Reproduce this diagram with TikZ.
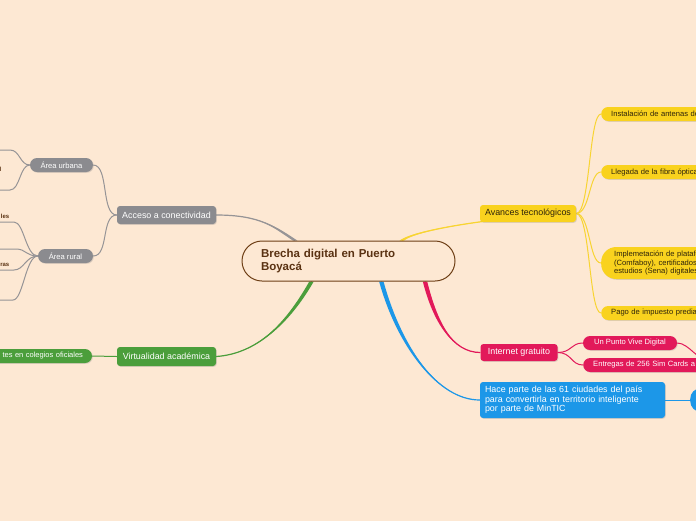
\documentclass[tikz,border=0pt]{standalone}
\usepackage{fontspec}
\setmainfont{Liberation Sans}
\usetikzlibrary{calc,shadows}
\pgfdeclarelayer{bg}
\pgfdeclarelayer{background}
\pgfsetlayers{bg,background,main}
\definecolor{bgc}{RGB}{253,232,211}
\definecolor{brd}{RGB}{110,63,22}
\definecolor{brtext}{RGB}{90,50,18}
\definecolor{greyc}{RGB}{139,139,143}
\definecolor{greyl}{RGB}{150,148,150}
\definecolor{greenc}{RGB}{75,158,59}
\definecolor{yelc}{RGB}{249,210,30}
\definecolor{yell}{RGB}{248,212,50}
\definecolor{pinkc}{RGB}{226,25,90}
\definecolor{bluec}{RGB}{28,151,232}
\definecolor{dark}{RGB}{45,35,10}
\newcommand{\mytaper}[5]{%
  \fill[#1] (#2) .. controls +#3 and +#4 .. ($(#5)+(-2.2,0)$) -- ($(#5)+(2.2,0)$) .. controls +#4 and +#3 .. (#2) -- cycle;
  \draw[#1, line width=1.2pt] (#2) .. controls +#3 and +#4 .. (#5);}
\begin{document}
\begin{tikzpicture}[x=1pt,y=-1pt,
  mainbox/.style={rounded corners=3pt, minimum height=18pt, inner xsep=0pt, inner ysep=0pt,
    font=\fontsize{8.9}{9.4}\selectfont, text=white,
    drop shadow={opacity=0.25, shadow xshift=0.8pt, shadow yshift=-0.8pt}},
  subbox/.style={rounded corners=7pt, minimum height=14pt, inner xsep=0pt, inner ysep=0pt,
    font=\fontsize{7.6}{8.7}\selectfont, text=white,
    drop shadow={opacity=0.25, shadow xshift=0.8pt, shadow yshift=-0.8pt}},
  leaftext/.style={font=\bfseries\fontsize{6}{7}\selectfont, text=brtext, inner sep=0pt, anchor=east},
  subline/.style={line width=1pt},
]
\useasboundingbox (0,0) rectangle (696,520);
\begin{pgfonlayer}{bg}
\fill[bgc] (-30,-30) rectangle (760,560);
\end{pgfonlayer}

% central
\node[draw=brd, line width=1pt, fill=bgc, rounded corners=20pt, minimum width=213pt, minimum height=40pt,
  inner sep=0pt, text width=175pt, align=left, text=brtext,
  font=\bfseries\fontsize{11.5}{12.5}\selectfont] (cen) at (348.5,261) {Brecha digital en Puerto\\Boyacá};

% grey branch
\node[mainbox, fill=greyc, minimum width=99pt] (acc) at (166.5,215) {Acceso a conectividad};
\node[subbox, fill=greyc, minimum width=63pt] (urb) at (61.5,165) {Área urbana};
\node[subbox, fill=greyc, minimum width=55pt] (rur) at (65.5,256) {Área rural};
\coordinate (lu1) at (10,150);
\coordinate (lu2) at (10,190);
\coordinate (lr1) at (14,222);
\coordinate (lr2) at (16,249);
\coordinate (lr3) at (14,270);
\coordinate (lr4) at (13,300);
\node[leaftext] (t1) at (1.5,169) {l};
\node[leaftext] (t2) at (9.5,216) {les};
\node[leaftext] (t3) at (9.5,265) {ras};

% green branch
\node[mainbox, fill=greenc, minimum width=99pt, minimum height=19pt] (virt) at (166.5,356.5) {Virtualidad académica};
\node[subbox, fill=greenc, minimum width=132pt, text width=114pt, inner xsep=9pt, align=right,
  font=\fontsize{7.5}{8.7}\selectfont] (col) at (26,356) {tes en colegios oficiales};

% yellow branch
\node[mainbox, fill=yelc, text=dark, minimum width=96pt, minimum height=17pt] (avn) at (528,213.5) {Avances tecnológicos};
\node[subbox, fill=yelc, text=dark, anchor=west, text width=130pt, inner xsep=10pt, align=left] (ant) at (601,114) {Instalación de antenas de};
\node[subbox, fill=yelc, text=dark, anchor=west, text width=130pt, inner xsep=10pt, align=left] (fib) at (601,172) {Llegada de la fibra óptica};
\node[subbox, fill=yelc, text=dark, anchor=west, text width=130pt, inner xsep=13pt, align=left,
  rounded corners=15pt, minimum height=32pt] (imp) at (601,263) {Implemetación de plataformas\\(Comfaboy), certificados\\estudios (Sena) digitales};
\node[subbox, fill=yelc, text=dark, anchor=west, text width=130pt, inner xsep=10pt, align=left] (pag) at (601,313) {Pago de impuesto predial};

% pink branch
\node[mainbox, fill=pinkc, minimum width=77pt, minimum height=17pt] (inet) at (519,352.5) {Internet gratuito};
\node[subbox, fill=pinkc, minimum width=94pt] (vive) at (630,343) {Un Punto Vive Digital};
\node[subbox, fill=pinkc, anchor=west, text width=130pt, inner xsep=10pt, align=left] (sim) at (583,365) {Entregas de 256 Sim Cards a};
\coordinate (pv) at (712,362);

% blue branch
\node[mainbox, fill=bluec, minimum width=185pt, minimum height=36pt, text width=175pt, align=left] (hace) at (572.5,400)
  {Hace parte de las 61 ciudades del país\\para convertirla en territorio inteligente\\por parte de MinTIC};
\node[fill=bluec, rounded corners=11pt, anchor=west, minimum width=40pt, minimum height=24pt, inner sep=0pt] (bend) at (690,400) {};

\begin{pgfonlayer}{background}
% main tapered connectors
\mytaper{greyl}{acc.east}{(45,0)}{(-20,-13)}{cen.159}
\mytaper{greenc}{virt.east}{(45,-3)}{(-20,35)}{cen.209}
\mytaper{yell}{avn.east}{(-40,0)}{(18,-14)}{cen.21}
\mytaper{pinkc}{inet.west}{(-28,0)}{(10,40)}{cen.345}
\mytaper{bluec}{hace.west}{(-42,0)}{(18,65)}{cen.328}

% grey sub connectors
\draw[greyl, subline] (acc.west) .. controls +(-16,0) and +(16,0) .. (urb.east);
\draw[greyl, subline] (acc.west) .. controls +(-16,0) and +(16,0) .. (rur.east);
\draw[greyl, subline] (urb.west) .. controls +(-10,0) and +(10,0) .. (lu1) -- +(-20,0);
\draw[greyl, subline] (urb.west) .. controls +(-10,0) and +(10,0) .. (lu2) -- +(-20,0);
\draw[greyl, subline] (rur.west) .. controls +(-12,0) and +(10,0) .. (lr1) -- +(-20,0);
\draw[greyl, subline] (rur.west) .. controls +(-12,0) and +(10,0) .. (lr2) -- +(-20,0);
\draw[greyl, subline] (rur.west) .. controls +(-12,0) and +(10,0) .. (lr3) -- +(-20,0);
\draw[greyl, subline] (rur.west) .. controls +(-12,0) and +(10,0) .. (lr4) -- +(-20,0);

% green
\draw[greenc, subline] (col.east) -- (virt.west);

% yellow
\draw[yell, subline] (avn.east) .. controls +(14,0) and +(-12,0) .. (ant.west);
\draw[yell, subline] (avn.east) .. controls +(14,0) and +(-12,0) .. (fib.west);
\draw[yell, subline] (avn.east) .. controls +(14,0) and +(-12,0) .. (imp.west);
\draw[yell, subline] (avn.east) .. controls +(14,0) and +(-12,0) .. (pag.west);

% pink
\draw[pinkc, subline] (inet.east) .. controls +(14,0) and +(-12,0) .. (vive.west);
\draw[pinkc, subline] (inet.east) .. controls +(14,0) and +(-12,0) .. (sim.west);
\draw[pinkc, subline] (vive.east) .. controls +(12,0) and +(-14,0) .. (pv);

% blue
\draw[bluec, subline] (hace.east) -- (bend.west);
\end{pgfonlayer}
\end{tikzpicture}
\end{document}
